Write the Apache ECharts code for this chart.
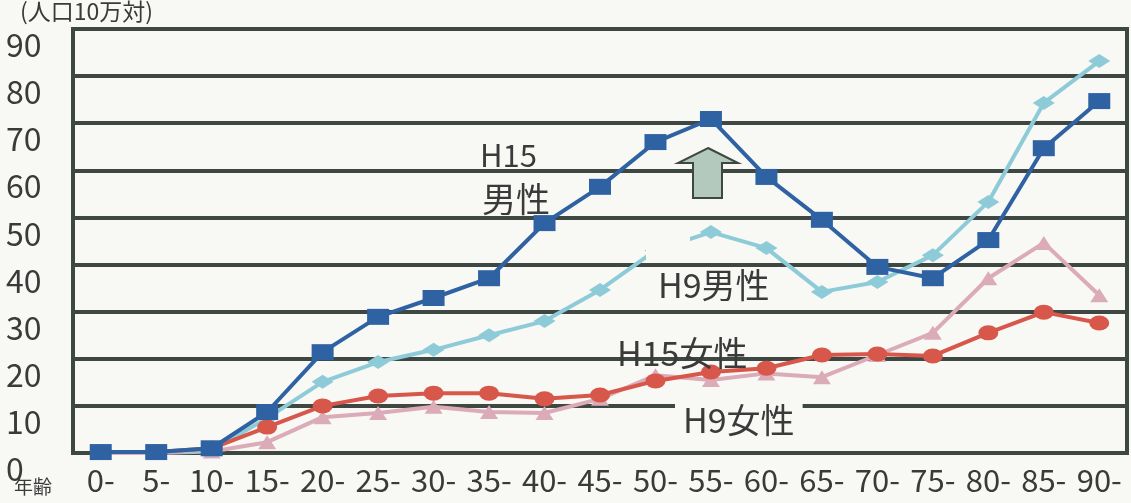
<!DOCTYPE html>
<html>
<head>
<meta charset="utf-8">
<script src="https://cdn.jsdelivr.net/npm/echarts@6/dist/echarts.min.js"></script>
<style>
  html, body { margin: 0; padding: 0; background: #f8f8f5; }
  #myChart { width: 1131px; height: 503px; }
</style>
</head>
<body>
<div id="myChart"></div>
<script>
// 年齢階級
let ages = ['0-', '5-', '10-', '15-', '20-', '25-', '30-', '35-', '40-', '45-',
  '50-', '55-', '60-', '65-', '70-', '75-', '80-', '85-', '90-'];
// 人口10万対
let h15Male = [0.2, 0.2, 1.0, 8.7, 21.4, 28.9, 32.9, 37.1, 48.8, 56.5,
  66.0, 70.9, 58.6, 49.5, 39.5, 37.1, 45.2, 64.7, 74.7];
let h9Male = [0.2, 0.2, 0.5, 7.4, 15.1, 19.3, 21.9, 25.0, 28.0, 34.6,
  43.0, 46.9, 43.5, 34.2, 36.3, 42.0, 53.3, 74.3, 83.2];
let h15Female = [0.2, 0.2, 1.0, 5.5, 10.0, 12.1, 12.7, 12.7, 11.5, 12.3,
  15.3, 17.2, 18.0, 20.8, 21.0, 20.6, 25.5, 29.9, 27.6];
let h9Female = [0.0, 0.0, 0.3, 2.3, 7.6, 8.5, 9.8, 8.7, 8.5, 11.5,
  16.5, 15.5, 16.9, 16.1, 20.8, 25.5, 37.1, 44.6, 33.5];

let lineColor = '#3f4742';
let textColor = '#3a3a3a';
let jpFont = '"Noto Sans CJK JP", "Noto Sans", sans-serif';

function mkSeries(name, data, color, symbol, size, z) {
  return {
    name: name,
    type: 'line',
    data: data,
    z: z,
    symbol: symbol,
    symbolSize: size,
    lineStyle: { color: color, width: 4 },
    itemStyle: { color: color },
    emphasis: { disabled: true }
  };
}

let option = {
  backgroundColor: '#f8f8f5',
  animation: false,
  grid: {
    left: 73, right: 4, top: 29, bottom: 50,
    show: true, borderColor: lineColor, borderWidth: 4
  },
  xAxis: {
    type: 'category',
    data: ages,
    boundaryGap: true,
    axisLine: { lineStyle: { color: lineColor, width: 4 } },
    axisTick: { show: false },
    axisLabel: {
      color: textColor, fontSize: 31, fontFamily: jpFont,
      margin: 12, interval: 0
    }
  },
  yAxis: {
    type: 'value',
    min: 0, max: 90, interval: 10,
    axisLine: { show: true, lineStyle: { color: lineColor, width: 4 } },
    axisTick: { show: false },
    splitLine: { lineStyle: { color: lineColor, width: 4 } },
    axisLabel: {
      color: textColor, fontSize: 32, fontFamily: jpFont,
      align: 'left', margin: 67, verticalAlign: 'top'
    }
  },
  series: [
    mkSeries('H9女性', h9Female, '#dcabb8', 'triangle', [18, 14], 2),
    mkSeries('H9男性', h9Male, '#8ecbd8', 'diamond', [22, 14], 3),
    mkSeries('H15女性', h15Female, '#d8574b', 'circle', [20, 15], 4),
    mkSeries('H15男性', h15Male, '#2f62a3', 'rect', [22, 16], 5)
  ],
  graphic: [
    { type: 'text', left: 20, top: 0, z: 10,
      style: { text: '(人口10万対)', fontSize: 23, fontFamily: jpFont, fill: textColor } },
    { type: 'text', left: 14, top: 477, z: 10,
      style: { text: '年齢', fontSize: 19, fontFamily: jpFont, fill: textColor } },
    // H9男性の線を隠す白い枠
    { type: 'rect', z: 20, shape: { x: 646, y: 226, width: 44, height: 33 },
      style: { fill: '#f8f8f5' } },
    { type: 'polygon', z: 20,
      shape: { points: [[708, 148], [738, 163], [722, 163], [722, 198], [693, 198], [693, 163], [678, 163]] },
      style: { fill: '#b3c9bd', stroke: '#3f4742', lineWidth: 2 } },
    { type: 'text', left: 480, top: 140, z: 20,
      style: { text: 'H15', fontSize: 31, fontFamily: jpFont, fill: textColor } },
    { type: 'text', left: 482, top: 182, z: 20,
      style: { text: '男性', fontSize: 34, fontFamily: jpFont, fill: textColor } },
    { type: 'text', left: 658, top: 268, z: 20,
      style: { text: 'H9男性', fontSize: 34, fontFamily: jpFont, fill: textColor } },
    { type: 'text', left: 617, top: 336, z: 20,
      style: { text: 'H15女性', fontSize: 34, fontFamily: jpFont, fill: textColor } },
    { type: 'text', left: 675, top: 401, z: 20,
      style: { text: 'H9女性', fontSize: 34, fontFamily: jpFont, fill: textColor,
        backgroundColor: '#f8f8f5', padding: [2, 8, 0, 8] } }
  ]
};

let myChart = echarts.init(document.getElementById('myChart'));
myChart.setOption(option);
</script>
</body>
</html>
